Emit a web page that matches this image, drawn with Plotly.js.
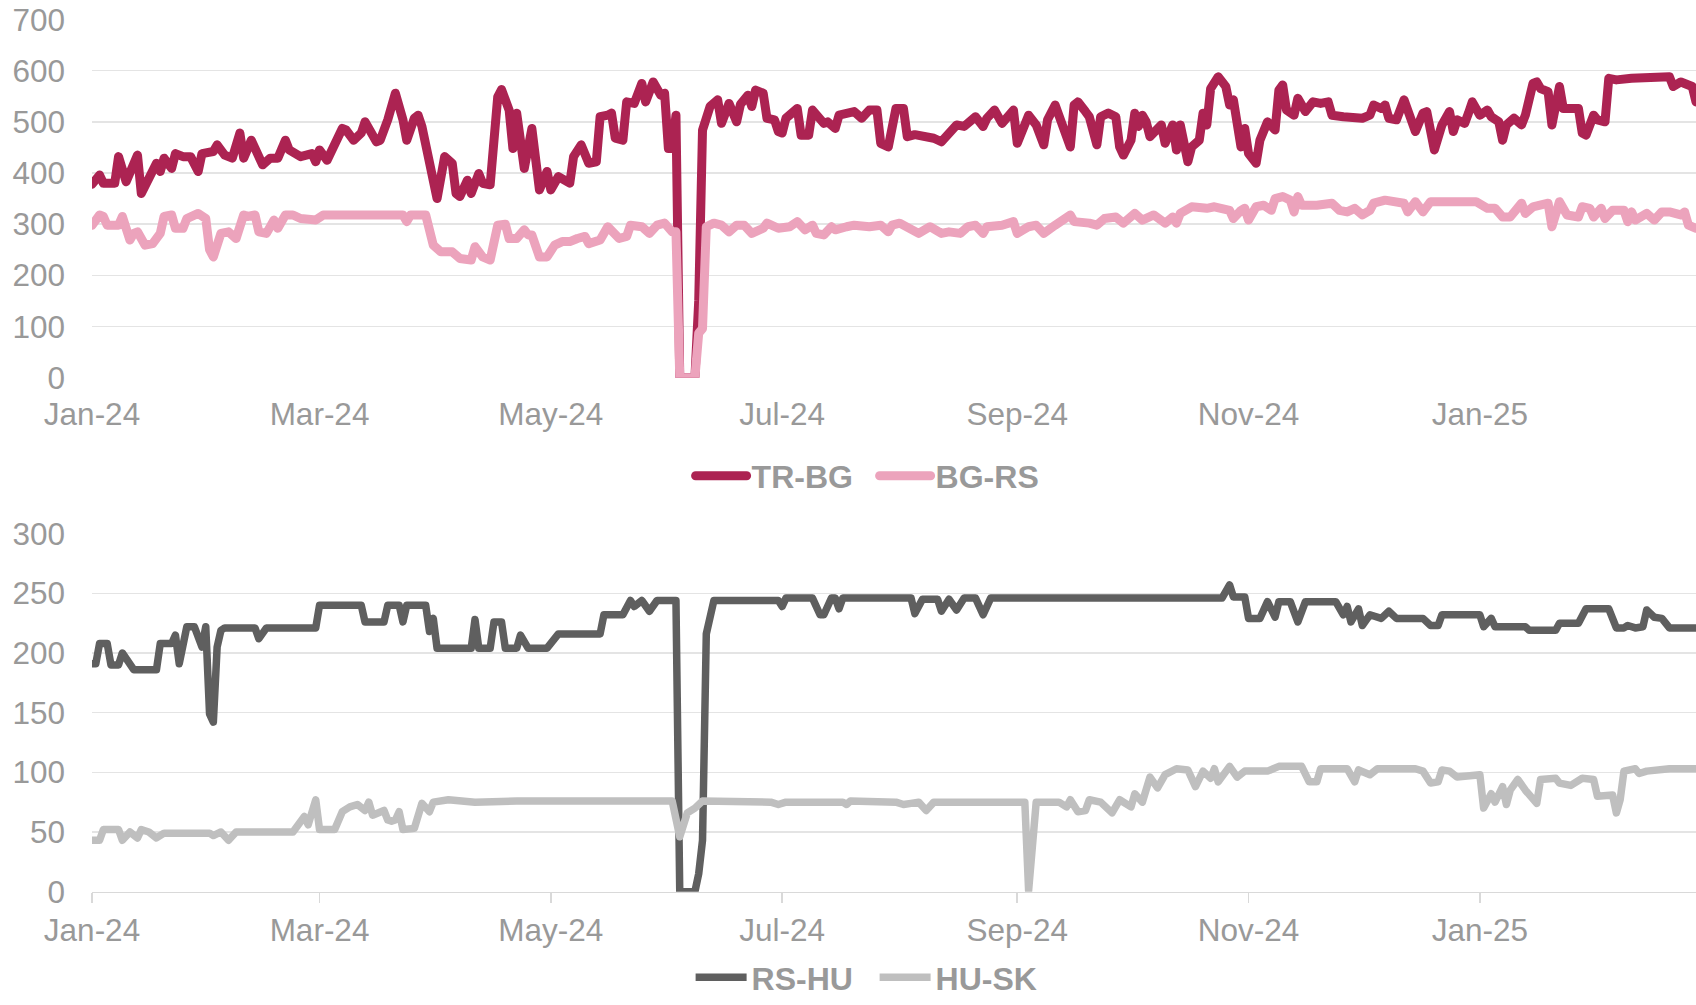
<!DOCTYPE html>
<html><head><meta charset="utf-8">
<script src="https://cdn.plot.ly/plotly-3.0.1.min.js"></script>
<style>
html,body{margin:0;padding:0;background:#fff}
#chart{width:1696px;height:1005px}
.scatterlayer path.js-line{stroke-linejoin:round;stroke-linecap:round}
.legend path.js-line{stroke-linecap:round}
</style></head><body><div id="chart"></div>
<script>
// Day offsets counted from the first date of the series
const startDate = '2024-01-01';
const endDate = '2025-02-27';

// TR-BG
const trbgDay = [0,2,3,6,7,9,12,13,17,18,19,21,22,24,26,28,29,32,33,35,37,39,40,42,43,45,47,49,51,52,55,58,59,60,62,66,67,69,71,72,75,76,78,80,82,83,85,86,87,90,91,93,95,96,97,99,100,102,103,105,107,108,110,111,112,114,116,118,120,121,123,126,127,129,131,133,134,136,137,138,140,141,143,145,146,148,150,151,152,153,154,155,159,160,161,163,165,166,168,170,171,173,174,175,177,178,180,181,182,183,186,187,189,190,193,194,196,197,201,203,205,207,208,210,211,212,214,215,217,220,222,224,226,228,230,233,235,236,238,240,243,244,247,249,251,252,254,256,258,259,260,262,263,265,266,268,270,271,272,274,275,276,277,278,279,282,283,285,286,287,289,290,292,293,294,295,297,299,300,301,303,304,305,307,308,310,312,313,314,315,317,318,320,322,324,326,327,330,333,335,337,338,340,341,342,344,346,348,349,351,352,354,356,358,359,360,362,363,364,366,368,369,371,372,373,375,377,378,380,381,382,384,385,387,388,392,393,394,396,397,399,400,402,406,414,416,417,419,420,422,423];
const trbgMW = [378,396,380,380,432,383,435,360,419,403,429,409,438,432,432,403,438,442,455,435,429,478,429,464,448,416,429,429,464,445,432,438,422,445,425,487,484,464,478,500,461,464,504,556,504,464,507,513,491,386,350,432,419,360,354,386,360,399,380,377,549,563,523,448,517,409,487,367,403,367,393,380,432,455,419,422,510,513,517,468,464,539,536,575,539,578,552,556,448,448,513,0,0,150,484,530,543,497,536,500,534,552,530,562,556,507,504,481,478,507,526,474,474,523,497,500,487,513,520,507,523,523,458,451,494,526,526,471,475,471,468,461,478,494,491,510,491,507,523,497,523,458,513,494,455,504,533,491,451,533,539,520,510,455,510,517,510,451,435,464,517,491,513,500,471,494,458,494,445,494,422,451,464,517,494,565,588,569,533,543,451,487,438,419,464,500,484,562,572,523,513,546,520,539,536,539,513,510,510,507,513,533,526,533,507,504,543,504,481,517,520,445,494,520,481,504,497,517,539,513,523,510,500,464,494,507,494,513,575,578,565,559,494,569,526,526,478,474,513,504,500,585,582,585,588,588,569,578,575,569,539];

// BG-RS
const bgrsDay = [0,2,3,4,7,8,10,11,12,14,16,18,19,21,22,24,25,28,30,31,32,34,36,38,40,41,43,44,46,48,49,51,53,55,59,61,82,83,84,88,90,92,95,97,100,101,103,105,107,109,110,112,114,115,116,118,120,122,124,126,128,130,131,134,136,139,141,142,145,147,149,151,153,154,155,159,160,161,162,164,166,168,170,172,174,177,178,181,184,186,188,190,191,193,195,196,199,201,205,208,210,211,213,215,218,221,224,226,229,231,233,235,236,240,243,244,247,249,251,254,258,259,261,263,265,267,270,272,275,277,280,282,283,285,286,287,290,294,296,300,301,303,304,305,307,309,311,312,314,316,317,318,319,323,327,329,331,333,335,337,338,341,346,347,349,351,353,365,368,370,372,374,376,377,378,380,384,385,387,389,392,393,395,396,398,399,401,404,405,406,407,410,412,414,416,419,420,421,423];
const bgrsMW = [298,318,315,298,298,315,269,282,285,259,262,282,315,318,292,292,311,321,311,250,236,282,285,272,318,315,318,285,282,308,292,318,318,311,308,318,318,305,318,318,259,246,246,233,230,256,236,230,298,300,272,272,289,279,279,236,236,259,266,266,272,276,262,269,295,272,276,298,295,282,298,302,285,285,0,0,87,96,295,302,298,285,298,298,282,292,302,292,295,305,289,298,282,279,295,289,295,298,295,298,285,298,302,292,282,295,282,285,282,295,298,282,295,298,305,282,295,298,282,298,318,305,305,302,298,311,314,302,321,308,318,305,302,314,302,321,334,331,334,327,311,327,331,308,334,337,327,350,354,347,324,354,337,337,341,327,324,331,318,327,341,347,341,324,344,324,344,344,331,331,314,314,337,341,321,334,341,295,344,318,314,334,331,314,331,311,327,327,305,324,308,321,308,324,324,318,324,298,292];

// RS-HU
const rshuDay = [0,1,2,4,5,7,8,11,17,18,21,22,23,25,27,29,30,31,32,33,34,35,43,44,46,59,60,71,72,77,78,81,82,83,88,89,90,91,100,101,102,105,106,108,109,112,113,115,120,122,123,134,135,140,142,143,145,147,149,154,155,159,160,161,162,164,181,182,183,190,192,193,195,196,197,198,216,217,219,223,224,226,228,230,233,235,237,298,300,301,304,305,308,310,312,313,316,318,320,328,330,331,332,334,335,337,340,342,344,351,353,355,356,366,367,369,370,378,379,386,387,392,394,400,402,404,405,407,409,410,412,414,416,423];
const rshuMW = [191,191,208,208,190,190,200,186,186,208,208,215,191,222,222,205,222,149,142,205,219,221,221,212,221,221,240,240,226,226,240,240,226,240,240,218,229,204,204,228,204,204,226,226,204,204,215,204,204,211,216,216,232,232,244,239,244,235,244,244,0,0,15,43,216,244,244,239,246,246,232,232,246,246,237,246,246,233,245,245,235,245,236,246,246,232,246,246,257,247,247,229,229,243,230,243,243,226,243,243,232,239,226,237,223,232,229,235,229,229,223,223,232,232,222,229,222,222,219,219,225,225,237,237,221,221,223,221,222,236,230,229,221,221];

// HU-SK
const huskDay = [0,2,3,7,8,10,12,13,15,17,19,31,32,34,36,38,53,55,56,57,59,60,64,66,68,70,72,73,74,77,78,79,80,81,82,85,87,89,90,94,101,112,134,153,155,157,159,161,179,181,183,198,199,200,212,214,216,218,220,222,246,247,249,255,257,258,260,262,263,266,269,271,274,275,277,279,281,283,286,289,291,293,295,296,297,300,302,304,310,313,319,321,323,324,331,333,334,337,339,349,351,353,355,356,358,360,366,367,369,370,372,373,374,376,378,381,382,386,387,390,393,396,397,401,402,403,404,407,408,410,416,423];
const huskMW = [43,43,52,52,43,50,45,52,50,45,49,49,47,50,43,50,50,59,63,56,77,52,52,67,71,73,68,75,64,68,60,59,60,67,52,53,74,67,75,77,75,76,76,76,46,66,70,76,75,73,75,75,73,76,75,73,74,75,68,75,75,1,75,75,71,77,67,68,77,75,66,77,71,82,75,96,87,98,103,102,88,101,95,103,92,105,96,101,101,105,105,92,92,103,103,92,102,98,103,103,101,91,92,102,101,96,98,70,82,75,88,73,85,94,85,74,94,95,91,89,95,94,80,81,66,77,101,103,99,101,103,103];

const seriesNames = ['TR-BG','BG-RS','RS-HU','HU-SK'];
const seriesColors = ['#AC2352','#ECA3BC','#5F5F5F','#BFBFBF'];

function toDates(days){
  const base = Date.parse(startDate + 'T00:00:00Z');
  return days.map(d => new Date(base + d*86400000).toISOString().slice(0,10));
}

const FONT = 'Liberation Sans, Arial, sans-serif';
const tickFont = {family: FONT, size: 31.5, color: '#999999'};

const traces = [
  {x: toDates(trbgDay), y: trbgMW, name: seriesNames[0], xaxis:'x', yaxis:'y', legend:'legend', line:{color:seriesColors[0], width:9}},
  {x: toDates(bgrsDay), y: bgrsMW, name: seriesNames[1], xaxis:'x', yaxis:'y', legend:'legend', line:{color:seriesColors[1], width:9}},
  {x: toDates(rshuDay), y: rshuMW, name: seriesNames[2], xaxis:'x2', yaxis:'y2', legend:'legend2', line:{color:seriesColors[2], width:7.5}},
  {x: toDates(huskDay), y: huskMW, name: seriesNames[3], xaxis:'x2', yaxis:'y2', legend:'legend2', line:{color:seriesColors[3], width:7.5}}
].map(t => Object.assign({type:'scatter', mode:'lines', hoverinfo:'skip'}, t));

const xBase = {
  type:'date', range:[startDate, endDate], tick0:startDate, dtick:'M2', tickformat:'%b-%y',
  showgrid:false, zeroline:false, tickfont:tickFont, ticklabelstandoff:15, fixedrange:true, automargin:false
};
const yBase = {
  gridcolor:'#E4E4E4', gridwidth:1.5, zeroline:false, showline:false, tickfont:tickFont,
  ticklabelstandoff:26, fixedrange:true, automargin:false
};
const legendBase = {
  orientation:'h', xanchor:'left', x:0.3732,
  font:{family:FONT, size:32, color:'#999999', weight:'bold'}, bgcolor:'rgba(0,0,0,0)',
  itemwidth:51, entrywidth:118, tracegroupgap:0
};

const layout = {
  width:1696, height:1005, margin:{l:92, r:0, t:0, b:0, autoexpand:false},
  paper_bgcolor:'#fff', plot_bgcolor:'#fff', font:{family:FONT},
  xaxis: Object.assign({}, xBase, {anchor:'y', domain:[0,1], ticks:''}),
  yaxis: Object.assign({}, yBase, {anchor:'x', domain:[0.6242,0.9806], range:[0,700], dtick:100}),
  xaxis2: Object.assign({}, xBase, {anchor:'y2', domain:[0,1], ticks:'outside', ticklen:10, tickwidth:1.5, tickcolor:'#D9D9D9', showline:true, linecolor:'#D9D9D9', linewidth:1.5, ticklabelstandoff:0}),
  yaxis2: Object.assign({}, yBase, {anchor:'x2', domain:[0.1128,0.4690], range:[0,300], dtick:50}),
  legend: Object.assign({}, legendBase, {y:0.5264, yanchor:'middle'}),
  legend2: Object.assign({}, legendBase, {y:0, yanchor:'bottom'}),
  showlegend:true
};

Plotly.newPlot('chart', traces, layout, {staticPlot:true, displayModeBar:false});
</script></body></html>
